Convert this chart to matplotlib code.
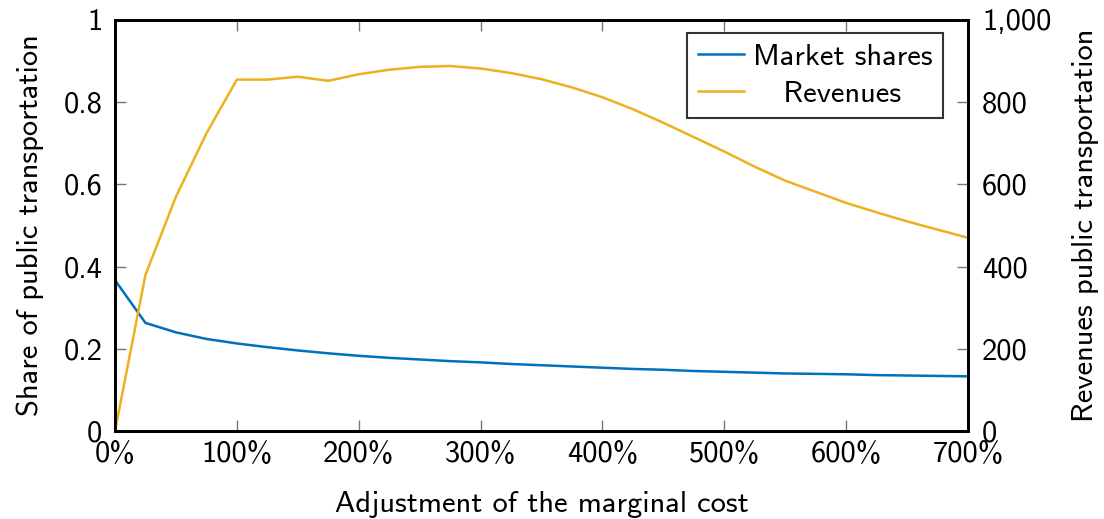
import matplotlib
matplotlib.use("Agg")
import matplotlib.pyplot as plt
import numpy as np

x_pct = list(range(0, 701, 25))
market_shares = [0.367, 0.263, 0.240, 0.224, 0.213, 0.204, 0.196, 0.189, 0.183, 0.178,
                 0.174, 0.170, 0.167, 0.163, 0.160, 0.157, 0.154, 0.151, 0.149, 0.146,
                 0.144, 0.142, 0.140, 0.139, 0.138, 0.136, 0.135, 0.134, 0.133]
revenues = [0, 380, 570, 724, 855, 855, 862, 852, 868, 879, 886, 888, 882, 871, 856,
            836, 812, 783, 750, 715, 680, 643, 609, 582, 555, 532, 510, 490, 470]
xticks = [0, 100, 200, 300, 400, 500, 600, 700]
xticklabels = ["0%", "100%", "200%", "300%", "400%", "500%", "600%", "700%"]
left_ticks = [0, 0.2, 0.4, 0.6, 0.8, 1]
left_labels = ["0", "0.2", "0.4", "0.6", "0.8", "1"]
right_ticks = [0, 200, 400, 600, 800, 1000]
right_labels = ["0", "200", "400", "600", "800", "1,000"]

plt.rcParams['font.family'] = ['cmss10', 'DejaVu Sans']
plt.rcParams['axes.unicode_minus'] = False
FS = 22

fig = plt.figure(figsize=(11.04, 5.19), dpi=100)
ax = fig.add_axes([115/1104, 1-431/519, (968-115)/1104, (431-20)/519])
ax2 = ax.twinx()

blue = "#0072BD"
gold = "#EDB120"
l1, = ax.plot(x_pct, market_shares, color=blue, lw=1.8)
l2, = ax2.plot(x_pct, revenues, color=gold, lw=1.8)

ax.set_xlim(0, 700)
ax.set_ylim(0, 1)
ax2.set_ylim(0, 1000)
ax.set_xticks(xticks)
ax.set_xticklabels(xticklabels, fontsize=FS)
ax.set_yticks(left_ticks)
ax.set_yticklabels(left_labels, fontsize=FS)
ax2.set_yticks(right_ticks)
ax2.set_yticklabels(right_labels, fontsize=FS)

ax.tick_params(axis='x', direction='in', length=8, width=1, color='#777777', top=True,
               pad=7)
ax.tick_params(axis='y', direction='in', length=8, width=1, color='#777777', right=False, pad=9)
ax2.tick_params(axis='y', direction='in', length=8, width=1, color='#777777', pad=10)

for a in (ax, ax2):
    for s in a.spines.values():
        s.set_linewidth(2)
        s.set_color('black')

ax.set_xlabel("Adjustment of the marginal cost", fontsize=FS, labelpad=17)
ax.set_ylabel("Share of public transportation", fontsize=FS, labelpad=14)
ax2.set_ylabel("Revenues public transportation", fontsize=FS, labelpad=15)

leg = ax2.legend([l1, l2], ["Market shares", "   Revenues"], loc='upper right',
                 bbox_to_anchor=(943/1104, 1-33/519), bbox_transform=fig.transFigure,
                 fontsize=FS, frameon=True, fancybox=False,
                 edgecolor='black', handlelength=1.5, borderpad=0.35, labelspacing=0.3,
                 handletextpad=0.3, borderaxespad=0)
leg.get_frame().set_linewidth(1.5)

fig.savefig("out.png", dpi=100)
